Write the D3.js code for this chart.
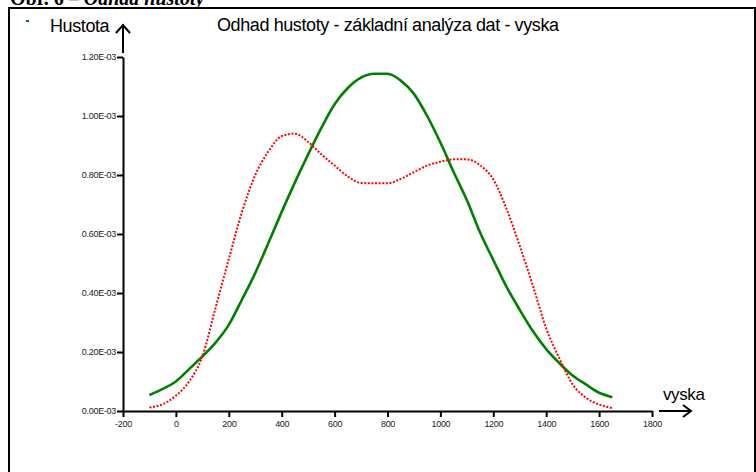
<!DOCTYPE html>
<html lang="cs">
<head>
  <meta charset="UTF-8">
  <title>Odhad hustoty</title>
  <script src="https://d3js.org/d3.v7.min.js"></script>
  <style>
    body { margin: 0; background: #fff; }
    .axis path, .axis line { stroke: #000; stroke-width: 2px; }
    .axis text { font: 9px Arial, "Liberation Sans", sans-serif; fill: #222; letter-spacing: -0.3px; }
    .lbl { font: 18px Arial, "Liberation Sans", sans-serif; fill: #000; letter-spacing: -0.4px; }
  </style>
</head>
<body>
  <svg width="756" height="472"></svg>
  <script>
    // x positions of the density estimate (vyska)
    const vyska = [-100, -50, 0, 50, 100, 150, 200, 250, 300, 350, 400, 450, 500, 550, 600, 650, 700, 750,
      800, 850, 900, 950, 1000, 1050, 1100, 1150, 1200, 1250, 1300, 1350, 1400, 1450, 1500, 1550, 1600, 1650];

    // density values in units of 1E-03
    const hustotaZelena = [0.054, 0.075, 0.100, 0.142, 0.185, 0.232, 0.292, 0.378, 0.468, 0.570, 0.675, 0.775,
      0.870, 0.960, 1.040, 1.095, 1.130, 1.143, 1.143, 1.120, 1.075, 1.000, 0.910, 0.810, 0.715, 0.605,
      0.512, 0.421, 0.343, 0.270, 0.210, 0.162, 0.120, 0.090, 0.062, 0.047];

    const hustotaCervena = [0.012, 0.023, 0.052, 0.100, 0.185, 0.350, 0.515, 0.675, 0.800, 0.880, 0.932, 0.940,
      0.912, 0.870, 0.832, 0.795, 0.773, 0.772, 0.772, 0.787, 0.810, 0.832, 0.845, 0.853, 0.853, 0.833,
      0.785, 0.685, 0.560, 0.424, 0.280, 0.178, 0.090, 0.045, 0.022, 0.010];

    const xTicks = [-200, 0, 200, 400, 600, 800, 1000, 1200, 1400, 1600, 1800];
    const yTicks = [0, 0.2, 0.4, 0.6, 0.8, 1.0, 1.2];

    const svg = d3.select("svg");

    // page heading, cut off by the frame
    const head = svg.append("text")
      .attr("x", 10).attr("y", 5)
      .style("font", "bold 20px 'Liberation Serif', 'Times New Roman', serif");
    head.append("tspan").text("Obr. 6 – ");
    head.append("tspan").style("font-style", "italic").text("Odhad hustoty");

    // frame
    svg.append("rect")
      .attr("x", 9).attr("y", 8)
      .attr("width", 746).attr("height", 500)
      .attr("fill", "#fff")
      .attr("stroke", "#000")
      .attr("stroke-width", 2);

    svg.append("rect")
      .attr("x", 26).attr("y", 20)
      .attr("width", 3).attr("height", 2)
      .attr("fill", "#008000");

    const x = d3.scaleLinear().domain([-200, 1800]).range([123, 652]);
    const y = d3.scaleLinear().domain([0, 1.2]).range([411, 57]);

    svg.append("g")
      .attr("class", "axis")
      .attr("transform", "translate(0,411)")
      .call(d3.axisBottom(x).tickValues(xTicks).tickSize(6).tickSizeOuter(0).tickPadding(4)
        .tickFormat(d => String(d)));

    svg.append("g")
      .attr("class", "axis")
      .attr("transform", "translate(123,0)")
      .call(d3.axisLeft(y).tickValues(yTicks).tickSize(6).tickSizeOuter(0).tickPadding(1)
        .tickFormat(d => d3.format(".2f")(d) + "E-03"));

    // axis arrows
    svg.append("path")
      .attr("d", "M123,53 V25 M116,33 L123,25 L130,33")
      .attr("fill", "none").attr("stroke", "#000").attr("stroke-width", 2);
    svg.append("path")
      .attr("d", "M659,411 H691 M683,405 L691,411 L683,417")
      .attr("fill", "none").attr("stroke", "#000").attr("stroke-width", 2);

    svg.append("text").attr("class", "lbl").attr("x", 50).attr("y", 32).text("Hustota");
    svg.append("text").attr("class", "lbl").attr("x", 217).attr("y", 31)
      .text("Odhad hustoty - základní analýza dat - vyska");
    svg.append("text").attr("class", "lbl").attr("x", 663).attr("y", 400)
      .style("font-size", "17px").text("vyska");

    const line = (vals) => d3.line()
      .x((d, i) => x(vyska[i]))
      .y(d => y(d))
      .curve(d3.curveMonotoneX)(vals);

    svg.append("path")
      .attr("d", line(hustotaZelena))
      .attr("fill", "none")
      .attr("stroke", "#008000")
      .attr("stroke-width", 2.6);

    svg.append("path")
      .attr("d", line(hustotaCervena))
      .attr("fill", "none")
      .attr("stroke", "#ff0000")
      .attr("stroke-width", 2)
      .attr("stroke-dasharray", "2,1.6");
  </script>
</body>
</html>
